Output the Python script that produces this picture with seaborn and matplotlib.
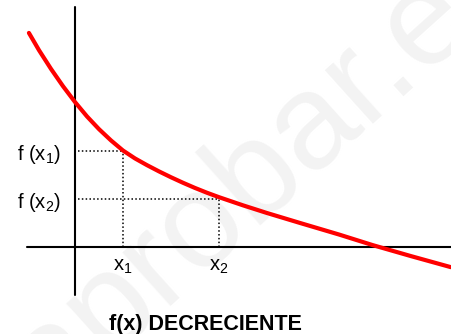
import numpy as np
import pandas as pd

import matplotlib
matplotlib.use('Agg')
import matplotlib.pyplot as plt
import seaborn as sns

# curve points (1 unit = distance from origin to x1)
curve_x = [-0.96, -0.75, -0.5, -0.25, 0.0, 0.25, 0.5, 0.75, 1.0, 1.25, 1.5, 1.75,
           2.0, 2.25, 2.5, 2.75, 3.0, 3.5, 4.0, 4.69, 5.5, 6.2, 7.0, 7.83]
curve_y = [4.46, 4.10, 3.71, 3.35, 3.02, 2.72, 2.455, 2.22, 2.01, 1.845, 1.705, 1.575,
           1.453, 1.338, 1.23, 1.13, 1.038, 0.868, 0.708, 0.50, 0.26, 0.04, -0.19, -0.42]

# the two marked points
x_marks = [1.0, 3.0]
f_marks = [2.0, 1.0]
x_labels = ['x$_1$', 'x$_2$']
f_labels = ['f (x$_1$)', 'f (x$_2$)']
title = 'f(x) DECRECIENTE'

curve = pd.DataFrame({'x': curve_x, 'y': curve_y})

sns.set_theme(style='white')
plt.rcParams['font.family'] = ['Liberation Sans', 'DejaVu Sans']
plt.rcParams['mathtext.fontset'] = 'custom'
plt.rcParams['mathtext.rm'] = 'Liberation Sans'
plt.rcParams['mathtext.it'] = 'Liberation Sans'

fig = plt.figure(figsize=(4.51, 3.34), dpi=100)
ax = fig.add_axes([0, 0, 1, 1])
ax.set_xlim(-75 / 48, 376 / 48)
ax.set_ylim(-87 / 48, 247 / 48)
ax.axis('off')

# watermark
ax.text(3.98, 1.65, 'aprobar.es', rotation=42, rotation_mode='anchor',
        ha='center', va='center', fontsize=98, color='#f3f3f3', zorder=0)

# axes
ax.axvline(0, ymin=0.117, ymax=0.979, color='black', lw=1.5, zorder=2)
ax.axhline(0, xmin=0.06, xmax=1.0, color='black', lw=1.5, zorder=2)

# dotted guides
ax.vlines(x_marks, 0, f_marks, colors='black', linestyles=(0, (1, 1.5)), lw=1.1, zorder=2)
ax.hlines(f_marks, 0.06, x_marks, colors='black', linestyles=(0, (1, 1.5)), lw=1.1, zorder=2)

# the function
sns.lineplot(data=curve, x='x', y='y', color='red', lw=3, estimator=None,
             sort=False, ax=ax, zorder=3)

for xm, lab in zip(x_marks, x_labels):
    ax.text(xm, -0.5, lab, ha='center', va='baseline', fontsize=14.5, color='black')
for fm, lab in zip(f_marks, f_labels):
    ax.text(-0.3, fm - 0.19, lab, ha='right', va='baseline', fontsize=14.5, color='black')

ax.text(2.72, -1.73, title, ha='center', va='baseline', fontsize=15.5,
        fontweight='bold', color='black')

plt.savefig('out.png', dpi=100)
